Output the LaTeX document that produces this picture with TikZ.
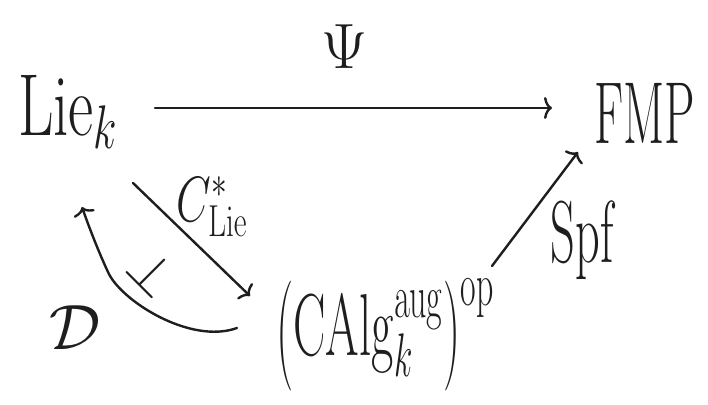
\RequirePackage{fix-cm}
\documentclass[tikz,border=0pt]{standalone}
\usepackage{graphicx}
\usetikzlibrary{arrows.meta}
\definecolor{ink}{HTML}{1E1E1E}
\newcommand{\tallpar}[1]{\raisebox{-0.1em}{\scalebox{1}[1.25]{#1}}}
\tikzset{
  hw/.style={inner sep=0pt, text=ink},
  big/.style={font=\fontsize{44}{48}\selectfont},
  mid/.style={font=\fontsize{32}{36}\selectfont},
  arr/.style={draw=ink, line width=1.2pt, line cap=round, -{To[length=4pt,width=11pt]}},
}
\begin{document}
\begin{tikzpicture}[x=0.5pt,y=-0.5pt]
\useasboundingbox[fill=white] (0,0) rectangle (708,405);
% objects
\node[hw, big, xscale=0.7] (lie) at (68,112) {Lie$_k$};
\node[hw, big, xscale=0.55] (fmp) at (645,113) {FMP};
\node[hw, big, xscale=0.55] (calg) at (385,335) {$\tallpar{(}\mathrm{CAlg}_k^{\mathrm{aug}}\tallpar{)}^{\mathrm{op}}$};
% labels
\node[hw, mid] (psi) at (345,47) {$\Psi$};
\node[hw, mid, xscale=0.7] (cstar) at (212,207) {$C^*_{\mathrm{Lie}}$};
\node[hw, big, xscale=0.55] (spf) at (582,240) {Spf};
\node[hw, mid] (dd) at (75,328) {$\mathcal{D}$};
\node[hw, font=\fontsize{28}{30}\selectfont, rotate=-45] (adj) at (153,272) {$\perp$};
% arrows
\draw[arr] ([shift={(87,-4)}]lie.center) -- ([shift={(-93,-5)}]fmp.center);
\draw[arr] ([shift={(65,71)}]lie.center) -- ([shift={(-135,-39)}]calg.center);
\draw[arr] ([shift={(107,-69)}]calg.center) -- ([shift={(-67,39)}]fmp.center);
\draw[arr] ([shift={(-148,-7)}]calg.center) .. controls (190,345) and (120,300) .. (108,272)
  .. controls (100,255) and (90,230) .. ([shift={(14,95)}]lie.center);
\end{tikzpicture}
\end{document}
